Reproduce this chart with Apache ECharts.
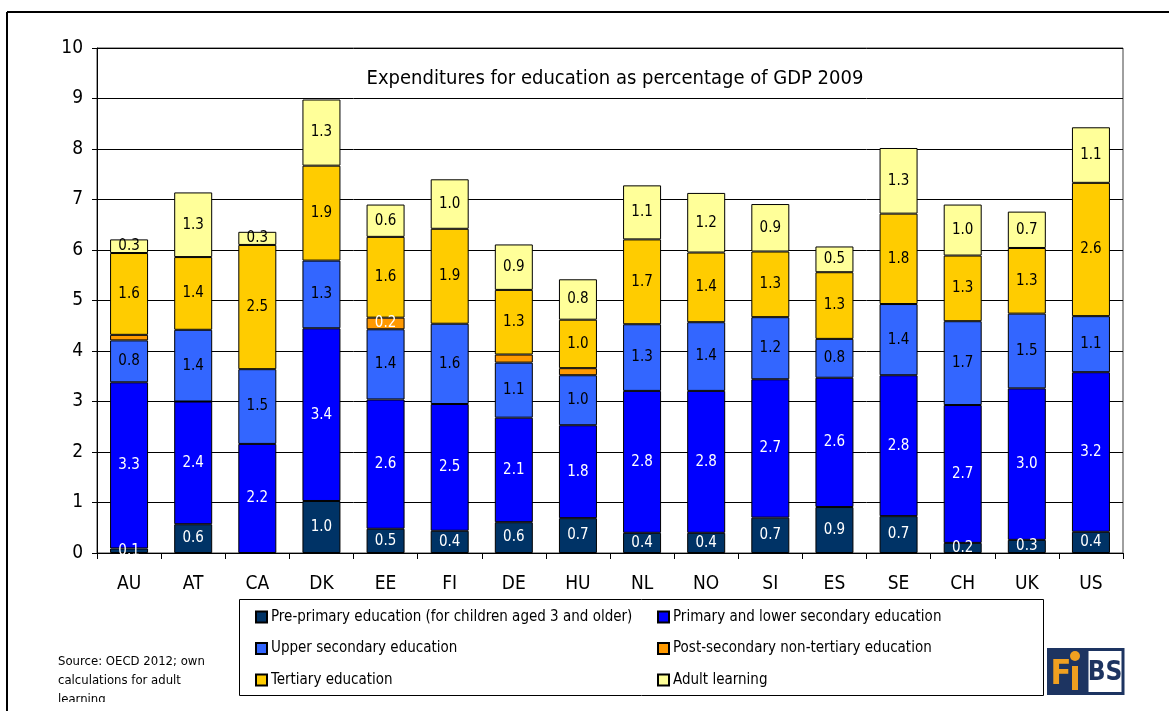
<!DOCTYPE html>
<html>
<head>
<meta charset="utf-8">
<title>Expenditures for education as percentage of GDP 2009</title>
<script src="https://cdn.jsdelivr.net/npm/echarts@6/dist/echarts.min.js"></script>
<style>
  html, body { margin: 0; padding: 0; background: #fff; }
  #chart { width: 1169px; height: 711px; }
</style>
</head>
<body>
<div id="chart"></div>
<script>
// Expenditure on education by level, % of GDP, 2009
const categories = ['AU','AT','CA','DK','EE','FI','DE','HU','NL','NO','SI','ES','SE','CH','UK','US'];
const prePrimary = [0.09,0.57,null,1.03,0.48,0.44,0.61,0.69,0.40,0.40,0.70,0.91,0.73,0.20,0.26,0.42];
const primaryLowerSec = [3.29,2.43,2.16,3.42,2.56,2.51,2.07,1.84,2.81,2.81,2.74,2.56,2.79,2.73,3.00,3.16];
const upperSec = [0.83,1.42,1.48,1.34,1.39,1.59,1.09,0.99,1.32,1.36,1.23,0.77,1.41,1.66,1.48,1.11];
const postSecNonTertiary = [0.11,null,null,null,0.23,null,0.16,0.14,null,null,null,null,null,null,null,null];
const tertiary = [1.62,1.44,2.46,1.88,1.60,1.88,1.28,0.96,1.68,1.38,1.30,1.32,1.79,1.30,1.30,2.64];
const adultLearning = [0.27,1.28,0.26,1.31,0.64,0.98,0.90,0.80,1.07,1.18,0.94,0.51,1.30,1.01,0.72,1.10];
const yTicks = [0,1,2,3,4,5,6,7,8,9,10];

const FONT = '"DejaVu Sans Condensed", "Liberation Sans", sans-serif';

const seriesDefs = [
  { name: 'Pre-primary education (for children aged 3 and older)', data: prePrimary, color: '#003366', text: '#ffffff', minLabel: 0 },
  { name: 'Primary and lower secondary education', data: primaryLowerSec, color: '#0000ff', text: '#ffffff', minLabel: 0 },
  { name: 'Upper secondary education', data: upperSec, color: '#3366ff', text: '#000000', minLabel: 0 },
  { name: 'Post-secondary non-tertiary education', data: postSecNonTertiary, color: '#ff9900', text: '#ffffff', minLabel: 0.2 },
  { name: 'Tertiary education', data: tertiary, color: '#ffcc00', text: '#000000', minLabel: 0 },
  { name: 'Adult learning', data: adultLearning, color: '#ffff99', text: '#000000', minLabel: 0 }
];

const series = seriesDefs.map(d => ({
  name: d.name,
  type: 'bar',
  stack: 'total',
  barWidth: 38,
  data: d.data,
  itemStyle: { color: d.color, borderColor: '#000', borderWidth: 1 },
  label: {
    show: true,
    position: 'inside',
    color: d.text,
    fontFamily: FONT,
    fontSize: 15,
    formatter: p => (p.value == null || p.value < d.minLabel) ? '' : p.value.toFixed(1)
  },
  emphasis: { disabled: true }
}));

const legendCommon = {
  orient: 'vertical',
  top: 602,
  icon: 'rect',
  itemWidth: 11,
  itemHeight: 11,
  itemGap: 11.5,
  selectedMode: false,
  textStyle: { fontFamily: FONT, fontSize: 15, color: '#000', lineHeight: 20, padding: [0, 0, 0, -1] }
};

const chart = echarts.init(document.getElementById('chart'), null, { renderer: 'canvas' });
chart.setOption({
  animation: false,
  backgroundColor: '#fff',
  title: {
    text: 'Expenditures for education as percentage of GDP 2009',
    left: 610,
    textAlign: 'center',
    top: 64,
    textStyle: { fontFamily: FONT, fontSize: 20, fontWeight: 'normal', color: '#000' }
  },
  grid: { left: 97, right: 46, top: 48, bottom: 158, show: true, borderColor: '#404040', borderWidth: 1 },
  legend: [
    Object.assign({}, legendCommon, { left: 250, data: [seriesDefs[0].name, seriesDefs[2].name, seriesDefs[4].name] }),
    Object.assign({}, legendCommon, { left: 652, data: [seriesDefs[1].name, seriesDefs[3].name, seriesDefs[5].name] })
  ],
  xAxis: {
    type: 'category',
    data: categories,
    axisLine: { lineStyle: { color: '#000', width: 1 } },
    axisTick: { show: true, length: 6, lineStyle: { color: '#000' } },
    axisLabel: { fontFamily: FONT, fontSize: 19, color: '#000', margin: 22 }
  },
  yAxis: {
    type: 'value',
    min: yTicks[0],
    max: yTicks[yTicks.length - 1],
    interval: 1,
    axisLine: { show: true, lineStyle: { color: '#000', width: 1 } },
    axisTick: { show: true, length: 5, lineStyle: { color: '#000' } },
    axisLabel: { fontFamily: FONT, fontSize: 19, color: '#000', margin: 14 },
    splitLine: { lineStyle: { color: '#000', width: 1 } }
  },
  graphic: [
    // outer frame
    { type: 'line', shape: { x1: 7, y1: 12, x2: 1169, y2: 12 }, style: { stroke: '#000', lineWidth: 2 } },
    { type: 'line', shape: { x1: 7, y1: 12, x2: 7, y2: 711 }, style: { stroke: '#000', lineWidth: 2 } },
    // legend box
    { type: 'rect', shape: { x: 239.5, y: 599.5, width: 804, height: 96 }, style: { fill: 'none', stroke: '#000', lineWidth: 1 }, z: 0 },
    // source note, cut off at the bottom edge of its box
    { type: 'text', left: 58, top: 652, style: { text: 'Source: OECD 2012; own\ncalculations for adult\nlearning', font: '13px ' + FONT, fill: '#000', lineHeight: 19 } },
    { type: 'rect', shape: { x: 40, y: 702, width: 190, height: 9 }, style: { fill: '#fff' }, z: 10 },
    // FiBS logo
    { type: 'rect', shape: { x: 1047, y: 648, width: 39, height: 47 }, style: { fill: '#1d3461' } },
    { type: 'text', x: 1061, y: 675, style: { text: 'F', font: 'bold 34px ' + FONT, fill: '#f0a020', align: 'center', verticalAlign: 'middle' } },
    { type: 'rect', shape: { x: 1072, y: 666, width: 6, height: 24 }, style: { fill: '#f0a020' } },
    { type: 'circle', shape: { cx: 1075, cy: 656, r: 5 }, style: { fill: '#f0a020' } },
    { type: 'rect', shape: { x: 1087, y: 649.5, width: 36, height: 44 }, style: { fill: '#fff', stroke: '#1d3461', lineWidth: 3 } },
    { type: 'text', x: 1105, y: 673, style: { text: 'BS', font: 'bold 26px ' + FONT, fill: '#1d3461', align: 'center', verticalAlign: 'middle' } }
  ],
  series: series
});
</script>
</body>
</html>
